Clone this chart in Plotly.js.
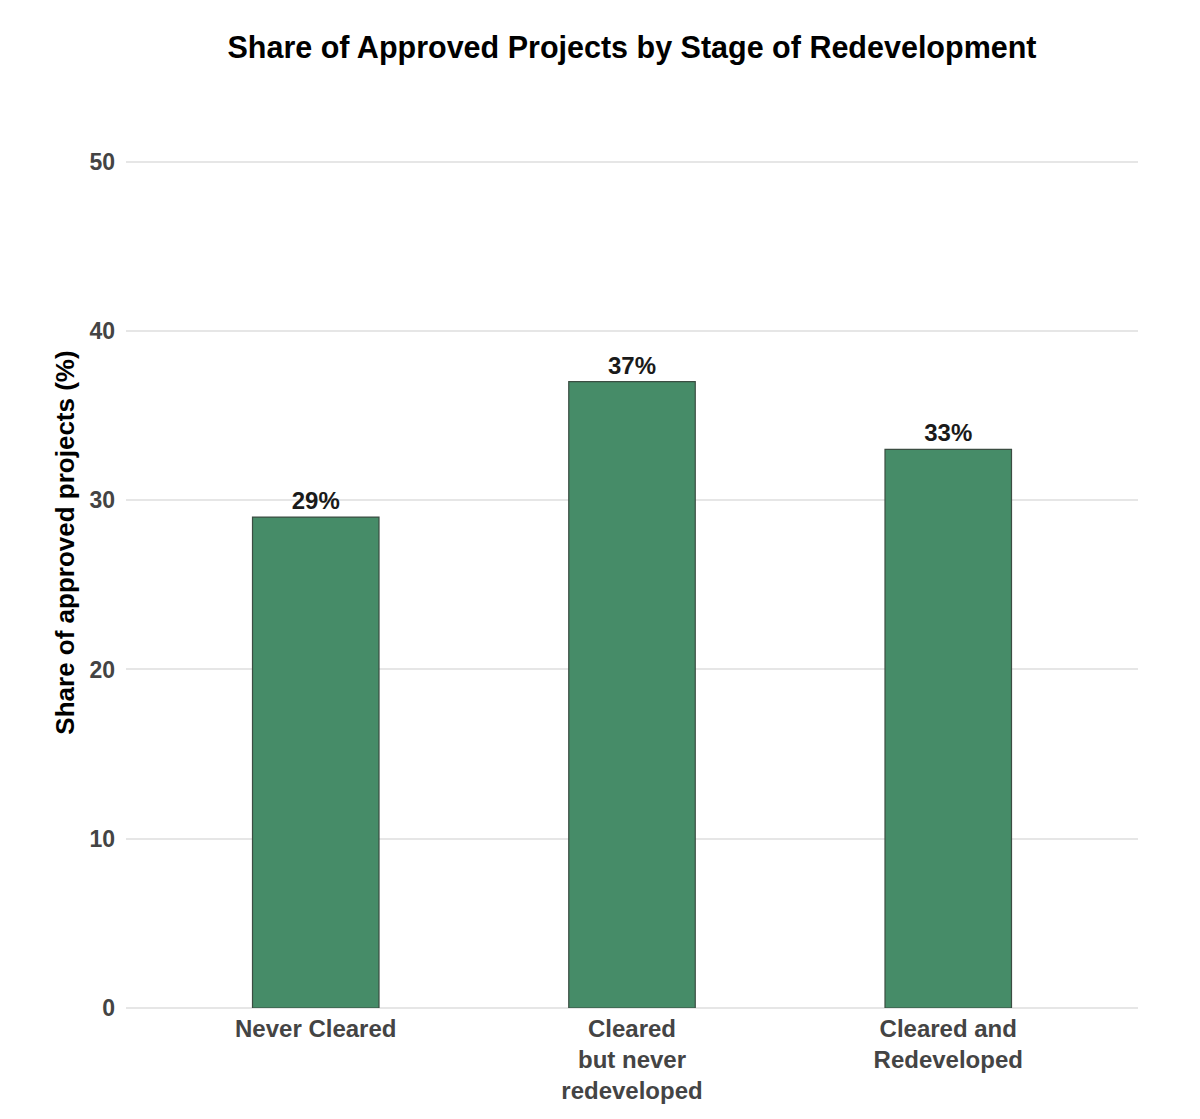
<!DOCTYPE html>
<html>
<head>
<meta charset="utf-8">
<script src="https://cdn.plot.ly/plotly-3.0.1.min.js"></script>
<style>
  body { margin: 0; background: #fff; }
  #chart { width: 1200px; height: 1119px; }
</style>
</head>
<body>
<div id="chart"></div>
<script>
const categories = ["Never Cleared", "Cleared<br>but never<br>redeveloped", "Cleared and<br>Redeveloped"];
const shares = [29, 37, 33];
const shareLabels = ["29%", "37%", "33%"];
const yTicks = [0, 10, 20, 30, 40, 50];

const font = "Liberation Sans, Arial, Helvetica, sans-serif";

Plotly.newPlot("chart", [
    {
        type: "bar",
        x: categories,
        y: shares,
        width: 0.4,
        text: shareLabels,
        textposition: "outside",
        cliponaxis: false,
        textfont: { family: font, size: 24, color: "#1a1a1a", weight: "bold" },
        marker: { color: "#468c68", line: { color: "#3b4d42", width: 1.2 } },
        hoverinfo: "x+y"
    }
], {
    width: 1200,
    height: 1119,
    margin: { l: 126, r: 62, t: 77, b: 111 },
    paper_bgcolor: "#fff",
    plot_bgcolor: "#fff",
    font: { family: font },
    title: {
        text: "Share of Approved Projects by Stage of Redevelopment",
        font: { family: font, size: 30.5, color: "#000", weight: "bold" },
        x: 0.5, xref: "paper",
        y: 1 - 47 / 1119, yref: "container", yanchor: "middle"
    },
    xaxis: {
        type: "category",
        range: [-0.6, 2.6],
        showgrid: false,
        showline: false,
        ticks: "",
        ticklabelstandoff: 4,
        tickfont: { family: font, size: 24, color: "#444", weight: "bold" }
    },
    yaxis: {
        range: [0, 55],
        tickvals: yTicks,
        showgrid: true,
        gridcolor: "#e6e6e6",
        gridwidth: 2,
        zeroline: true,
        zerolinecolor: "#e6e6e6",
        zerolinewidth: 2,
        showline: false,
        ticks: "",
        ticklabelstandoff: 10,
        tickfont: { family: font, size: 23, color: "#444", weight: "bold" },
        title: {
            text: "Share of approved projects (%)",
            font: { family: font, size: 26, color: "#000", weight: "bold" },
            standoff: 7
        }
    },
    showlegend: false,
    bargap: 0.6
}, { displayModeBar: false });
</script>
</body>
</html>
